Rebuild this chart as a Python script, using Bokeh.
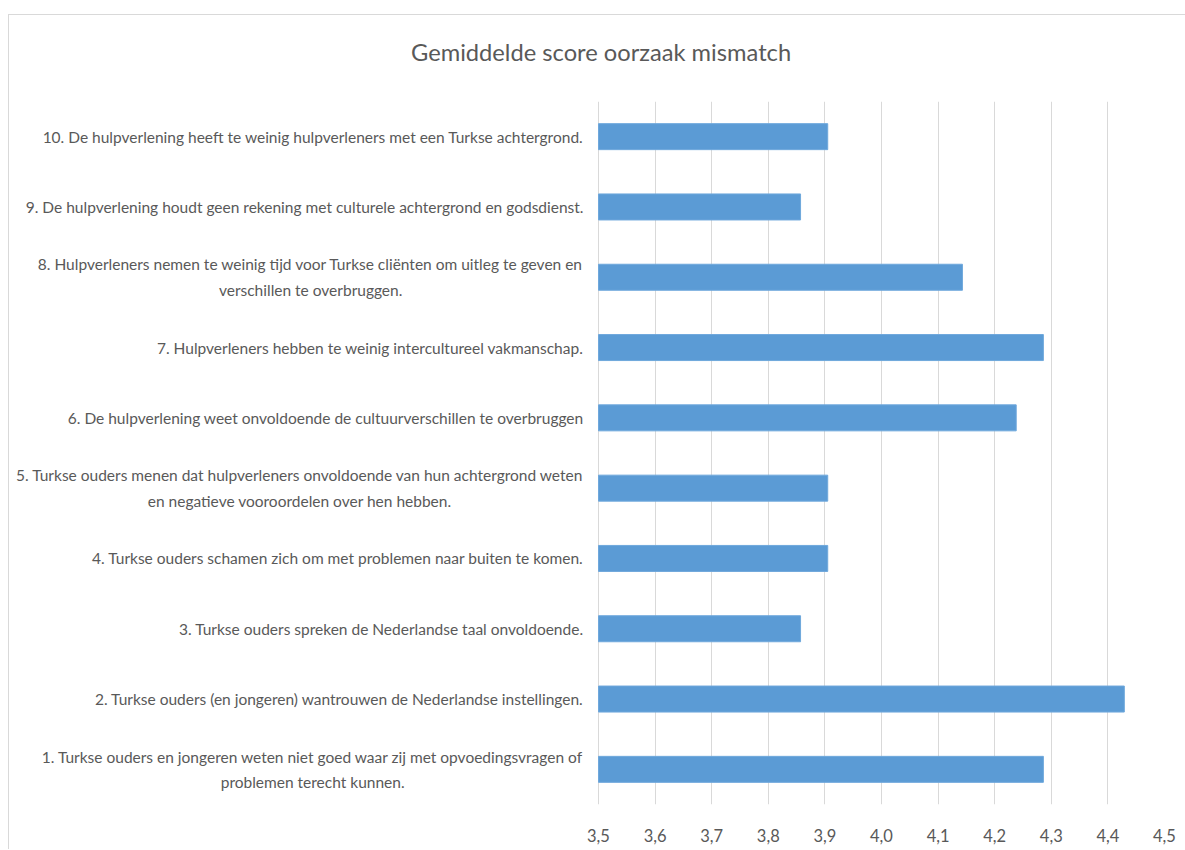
from bokeh.plotting import figure
from bokeh.models import FactorRange, Range1d, FixedTicker, Div, ColumnDataSource
from bokeh.layouts import column
from bokeh.embed import file_html
from bokeh.resources import INLINE

title = "Gemiddelde score oorzaak mismatch"
categories = [
    "1. Turkse ouders en jongeren weten niet goed waar zij met opvoedingsvragen of\nproblemen terecht kunnen.",
    "2. Turkse ouders (en jongeren) wantrouwen de Nederlandse instellingen.",
    "3. Turkse ouders spreken de Nederlandse taal onvoldoende.",
    "4. Turkse ouders schamen zich om met problemen naar buiten te komen.",
    "5. Turkse ouders menen dat hulpverleners onvoldoende van hun achtergrond weten\nen negatieve vooroordelen over hen hebben.",
    "6. De hulpverlening weet onvoldoende de cultuurverschillen te overbruggen",
    "7. Hulpverleners hebben te weinig intercultureel vakmanschap.",
    "8. Hulpverleners nemen te weinig tijd voor Turkse cliënten om uitleg te geven en\nverschillen te overbruggen.",
    "9. De hulpverlening houdt geen rekening met culturele achtergrond en godsdienst.",
    "10. De hulpverlening heeft te weinig hulpverleners met een Turkse achtergrond.",
]
scores = [4.286, 4.429, 3.857, 3.905, 3.905, 4.238, 4.286, 4.143, 3.857, 3.905]
x_ticks = [3.5, 3.6, 3.7, 3.8, 3.9, 4.0, 4.1, 4.2, 4.3, 4.4, 4.5]
x_tick_labels = ["3,5", "3,6", "3,7", "3,8", "3,9", "4,0", "4,1", "4,2", "4,3", "4,4", "4,5"]

X_START, X_END = 3.5, 4.5
FONT = "Lato"
GRAY = "#595959"

# layout (pixels)
W = 1176
LABEL_AREA = 589          # space left of the value axis start, holds the category texts
RIGHT_PAD = 21
AXIS_PX = W - LABEL_AREA - RIGHT_PAD
x_lo = X_START - (X_END - X_START) * LABEL_AREA / AXIS_PX

src = ColumnDataSource(dict(cat=categories, score=scores,
                            base=[X_START] * len(categories)))

p = figure(
    width=W, height=748,
    y_range=FactorRange(factors=categories, range_padding=0),
    x_range=Range1d(x_lo, X_END),
    output_backend="svg", toolbar_location=None, tools="",
    min_border_left=0, min_border_right=RIGHT_PAD, min_border_top=0, min_border_bottom=45,
)
p.margin = 0

p.hbar(y="cat", left="base", right="score", height=0.37, source=src,
       fill_color="#5b9bd5", line_color="#6fa8dc", line_width=1)

# category texts: block right-aligned next to the bars, lines centred in the block
p.text(x="base", y="cat", text="cat", source=src, x_offset=-15,
       anchor="center_right", text_align="center", text_baseline="middle",
       text_font={"value": FONT}, text_font_size="15.5px", text_color=GRAY,
       text_line_height=1.42)

p.outline_line_color = None
p.background_fill_color = "white"
p.border_fill_color = "white"

p.xaxis.ticker = FixedTicker(ticks=x_ticks)
p.xaxis.major_label_overrides = {t: l for t, l in zip(x_ticks, x_tick_labels)}
p.xaxis.axis_line_color = None
p.xaxis.major_tick_line_color = None
p.xaxis.minor_tick_line_color = None
p.xaxis.major_label_text_font = FONT
p.xaxis.major_label_text_font_size = "16.5px"
p.xaxis.major_label_text_color = GRAY
p.xaxis.major_label_standoff = 18

p.yaxis.visible = False

p.xgrid.grid_line_color = "#d9d9d9"
p.xgrid.ticker = FixedTicker(ticks=x_ticks)
p.ygrid.grid_line_color = None

head = Div(
    text=(f'<div style="position:absolute; left:402px; top:23px; white-space:nowrap; '
          f'font-family:{FONT}; font-size:23.7px; line-height:29px; color:{GRAY};">{title}</div>'),
    width=W, height=86,
)
head.margin = 0

layout = column(head, p, spacing=0)
layout.margin = (14, 0, 0, 8)
layout.styles = {"border-left": "1px solid #d9d9d9", "border-top": "1px solid #d9d9d9",
                 "background-color": "white"}

open("out.html", "w").write(file_html(layout, INLINE))
